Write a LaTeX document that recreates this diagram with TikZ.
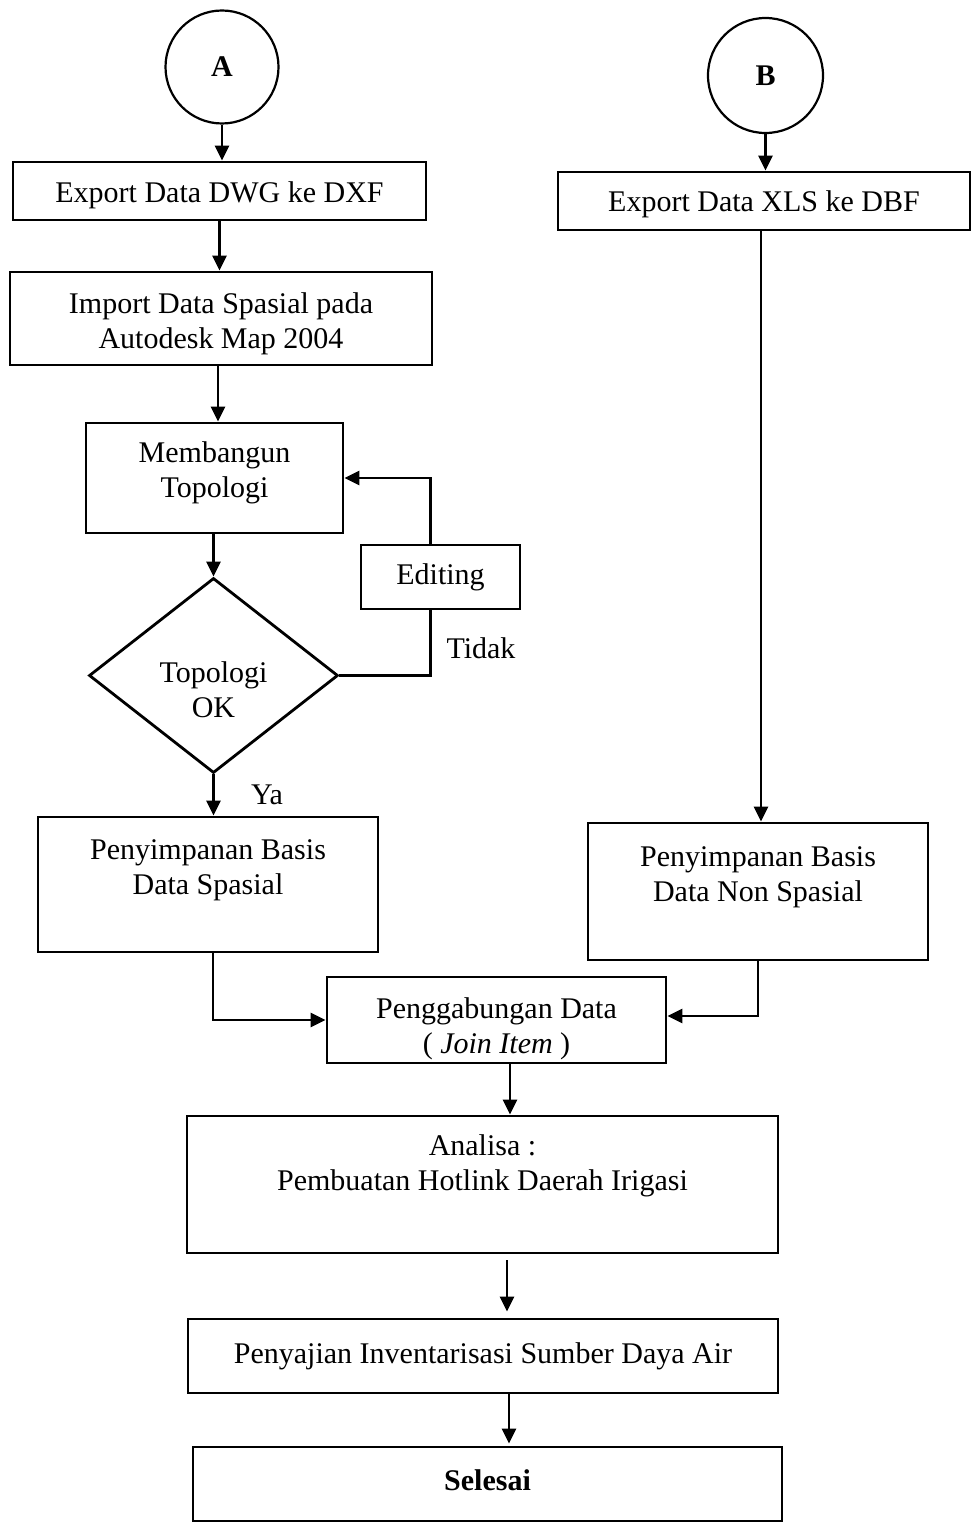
\documentclass[tikz,border=0pt]{standalone}
\usepackage{fontspec}
\setmainfont{Liberation Serif}
\usetikzlibrary{arrows.meta,shapes.geometric}
\begin{document}
\begin{tikzpicture}[x=1pt,y=-1pt,
  font=\fontsize{30}{35}\selectfont,
  every node/.style={inner sep=0pt},
  box/.style={draw, line width=2.8pt, rectangle, align=center},
  conn/.style={draw, line width=2.2pt, circle, font=\fontsize{30}{35}\selectfont\bfseries},
  arr/.style={line width=2.8pt, -{Triangle[width=14pt,length=15pt]}},
  ln/.style={line width=2.8pt}]
\useasboundingbox (0,0) rectangle (972,1530);

% left branch: spatial data
\node[conn, minimum size=113pt] (A) at (222,67) {A};
\node[box, minimum width=413pt, minimum height=58pt] (e1) at (219.5,191) {\mbox{}\\[-6.5pt]Export Data DWG ke DXF};
\node[box, minimum width=422pt, minimum height=93pt] (e2) at (221,318.5) {\mbox{}\\[-3.5pt]Import Data Spasial pada\\Autodesk Map 2004};
\node[box, minimum width=257pt, minimum height=110pt] (mb) at (214.5,478) {Membangun\\Topologi\\[-19pt]\mbox{}};
\node[box, shape=diamond, minimum width=249pt, minimum height=195pt] (dia) at (213.5,675.5) {\mbox{}\\[14.5pt]Topologi\\OK};
\node[box, minimum width=159pt, minimum height=64pt] (ed) at (440.5,577) {Editing};
\node[box, minimum width=340pt, minimum height=135pt] (ps) at (208,884.5) {Penyimpanan Basis\\Data Spasial\\\mbox{}};
\node (tdk) at (481,648) {Tidak};
\node (ya) at (267,795) {Ya};

% right branch: attribute data
\node[conn, minimum size=115pt] (B) at (765.5,75.5) {B};
\node[box, minimum width=412pt, minimum height=58pt] (ex) at (764,201) {\mbox{}\\[-8.5pt]Export Data XLS ke DBF};
\node[box, minimum width=340pt, minimum height=137pt] (pn) at (758,891.5) {Penyimpanan Basis\\Data Non Spasial\\\mbox{}};

% common trunk
\node[box, minimum width=339pt, minimum height=86pt] (pg) at (496.5,1020) {\mbox{}\\[2.5pt]Penggabungan Data\\( \textit{Join Item} )};
\node[box, minimum width=591pt, minimum height=137pt] (an) at (482.5,1184.5) {Analisa :\\Pembuatan Hotlink Daerah Irigasi\\[8pt]\mbox{}};
\node[box, minimum width=590pt, minimum height=74pt] (py) at (483,1356) {Penyajian Inventarisasi Sumber Daya Air};
\node[box, minimum width=589pt, minimum height=74pt] (se) at (487.5,1484) {\bfseries Selesai\\[-27pt]\mbox{}};

% connectors
\draw[arr] (A.south) -- (A.south |- e1.north);
\draw[arr] (e1.south) -- (e1.south |- e2.north);
\draw[arr] ([xshift=3.5pt]mb.north |- e2.south) -- ([xshift=3.5pt]mb.north);
\draw[arr] (mb.south -| dia.north) -- (dia.north);
\draw[ln] (dia.east) -| ([xshift=-10pt]ed.south);
\draw[arr] ([xshift=-10pt]ed.north) |- (mb.east);
\draw[arr] (dia.south) -- (dia.south |- ps.north);
\draw[arr] (B.south) -- (B.south |- ex.north);
\draw[arr] ([xshift=-3pt]ex.south) -- ([xshift=-3pt]ex.south |- pn.north);
\draw[arr] ([xshift=5pt]ps.south) |- (pg.west);
\draw[arr] (pn.south) |- ([yshift=4pt]pg.east);
\draw[arr] ([xshift=13.5pt]pg.south) -- ([xshift=13.5pt]pg.south |- an.north);
\draw[arr, shorten <=6pt, shorten >=6pt] ([xshift=24.5pt]an.south) -- ([xshift=24.5pt]an.south |- py.north);
\draw[arr, shorten >=2pt] ([xshift=26pt]py.south) -- ([xshift=26pt]py.south |- se.north);
\end{tikzpicture}
\end{document}
